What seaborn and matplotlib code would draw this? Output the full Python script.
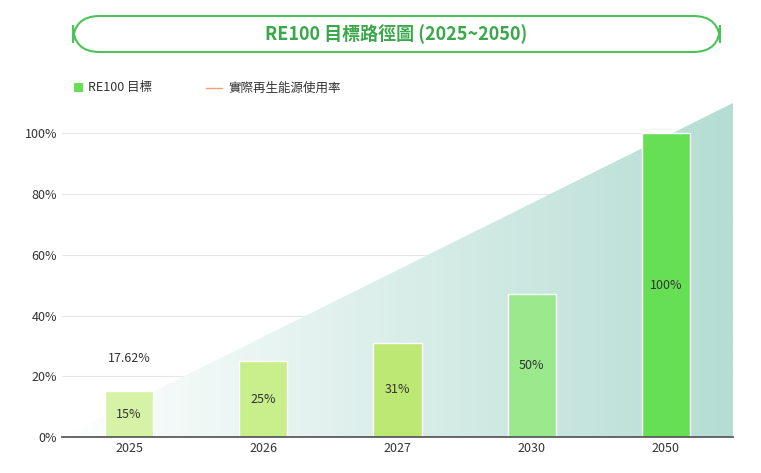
import matplotlib
matplotlib.use("Agg")
import matplotlib.pyplot as plt
import seaborn as sns
import numpy as np
import pandas as pd
from matplotlib.patches import FancyBboxPatch, Polygon, Rectangle
from matplotlib.lines import Line2D

years = ["2025", "2026", "2027", "2030", "2050"]
targets = [15, 25, 31, 47, 100]
labels = ["15%", "25%", "31%", "50%", "100%"]
colors = ["#d5f2a6", "#c9ee8c", "#bde873", "#9ae98d", "#66df55"]
actual_label = "17.62%"
actual_value = 26

sns.set_theme(style="white")
plt.rcParams['font.family'] = ['Noto Sans CJK TC', 'DejaVu Sans']

fig = plt.figure(figsize=(7.61, 4.73), dpi=100)
ax = fig.add_axes([62/761, (473-437)/473, (733-62)/761, (437-103)/473])

df = pd.DataFrame({"year": years, "target": targets})
ax.set_xlim(-0.5, 4.5)
ax.set_ylim(0, 110)

# gradient triangle
grad = np.linspace(0, 1, 256).reshape(1, -1)
from matplotlib.colors import LinearSegmentedColormap
cmap = LinearSegmentedColormap.from_list("g", ["#ffffff", "#b5ddd3"])
im = ax.imshow(grad, extent=[-0.5, 4.5, 0, 110], aspect="auto", cmap=cmap, zorder=0.5)
tri = Polygon([(-0.5, 0), (4.5, 110), (4.5, 0)], closed=True, transform=ax.transData)
im.set_clip_path(tri)

for y in [20, 40, 60, 80, 100]:
    ax.axhline(y, color="#e8e8e8", lw=0.8, zorder=0.3)

sns.barplot(data=df, x="year", y="target", hue="year", palette=colors, legend=False,
            width=0.36, ax=ax, zorder=2, saturation=1)
for i, (v, l) in enumerate(zip(targets, labels)):
    ax.text(i, v/2, l, ha="center", va="center", fontsize=9, color="#333333", zorder=3)
ax.text(0, actual_value, actual_label, ha="center", va="center", fontsize=9, color="#333333")

ax.set_yticks([0, 20, 40, 60, 80, 100])
ax.set_yticklabels([f"{t}%" for t in [0, 20, 40, 60, 80, 100]], fontsize=9, color="#333333")
ax.tick_params(axis="x", labelsize=9, colors="#333333", length=0)
ax.tick_params(axis="y", length=0)
ax.set_xlabel(""); ax.set_ylabel("")
for s in ["top", "right", "left"]:
    ax.spines[s].set_visible(False)
ax.spines["bottom"].set_color("#555555")

# title box
box = FancyBboxPatch((73/761, (473-52)/473), (720-73)/761, 36/473,
                     boxstyle="round,pad=0,rounding_size=0.035", transform=fig.transFigure,
                     fc="white", ec="#4cc25a", lw=1.5, mutation_aspect=761/473)
fig.patches.append(box)
fig.text(396/761, (473-34)/473, "RE100 目標路徑圖 (2025~2050)", ha="center", va="center",
         fontsize=13, fontweight="bold", color="#3aa84a")

# legend
fig.patches.append(Rectangle((74/761, (473-92)/473), 9/761, 9/473, transform=fig.transFigure,
                             fc="#66df55", ec="none"))
fig.text(88/761, (473-88)/473, "RE100 目標", va="center", fontsize=9, color="#333333")
fig.lines.append(Line2D([206/761, 222/761], [(473-88)/473]*2, transform=fig.transFigure,
                        color="#f0a070", lw=1))
fig.text(228/761, (473-88)/473, "實際再生能源使用率", va="center", fontsize=9, color="#333333")

fig.savefig("out.png", dpi=100)
